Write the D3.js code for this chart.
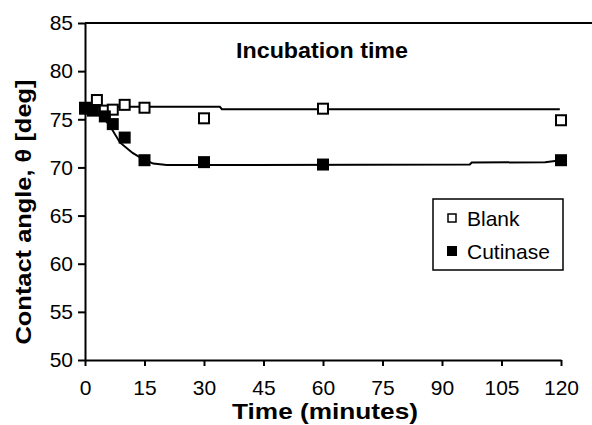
<!DOCTYPE html>
<html>
<head>
<meta charset="utf-8">
<script src="https://cdn.jsdelivr.net/npm/d3@7"></script>
<style>
  body { margin: 0; background: #fff; }
  text { font-family: "Liberation Sans", Arial, sans-serif; fill: #000; }
</style>
</head>
<body>
<script>
// measured points
var blankTime  = [0, 3, 5, 7, 10, 15, 30, 60, 120];
var blankAngle = [76.2, 77.0, 75.9, 76.0, 76.5, 76.2, 75.1, 76.1, 74.9];
var cutTime    = [0, 2, 5, 7, 10, 15, 30, 60, 120];
var cutAngle   = [76.1, 75.9, 75.3, 74.5, 73.1, 70.75, 70.55, 70.3, 70.75];

// trend lines as drawn in the figure
var blankFitTime  = [0, 34, 34.5, 119.7];
var blankFitAngle = [76.3, 76.3, 76.05, 76.05];
var cutFitTime  = [0, 2, 4, 6, 8.8, 12, 14.7, 17.2, 20.6, 97, 97.5, 116, 120];
var cutFitAngle = [76.2, 75.9, 75.3, 74.5, 72.6, 71.5, 70.85, 70.4, 70.25, 70.3, 70.5, 70.55, 70.75];

var xTicks = [0, 15, 30, 45, 60, 75, 90, 105, 120];
var yTicks = [50, 55, 60, 65, 70, 75, 80, 85];
var seriesNames = ["Blank", "Cutinase"];

var W = 592, H = 425;
var x = d3.scaleLinear().domain([0, 120]).range([85, 561]);
var y = d3.scaleLinear().domain([50, 85]).range([360, 23]);

var svg = d3.select("body").append("svg")
    .attr("width", W).attr("height", H);

function pairs(t, v) { return t.map(function(d, i) { return [d, v[i]]; }); }

// top frame line
svg.append("line")
    .attr("x1", x(0)).attr("x2", W)
    .attr("y1", y(85)).attr("y2", y(85))
    .attr("stroke", "#000").attr("stroke-width", 2);

// axes
var yAxis = svg.append("g").attr("transform", "translate(" + x(0) + ",0)")
    .call(d3.axisLeft(y).tickValues(yTicks).tickSize(7).tickPadding(5).tickSizeOuter(0));
var xAxis = svg.append("g").attr("transform", "translate(0," + y(50) + ")")
    .call(d3.axisBottom(x).tickValues(xTicks).tickSize(6).tickPadding(14).tickSizeOuter(0));

[xAxis, yAxis].forEach(function(a) {
  a.select(".domain").attr("stroke", "#000").attr("stroke-width", 2);
  a.selectAll(".tick line").attr("stroke", "#000").attr("stroke-width", 2);
  a.selectAll(".tick text").style("font-size", "21px")
    .style("font-family", "'Liberation Sans', Arial, sans-serif").attr("fill", "#000");
});
xAxis.selectAll(".tick text").attr("dy", "0.71em");

// trend lines
var line = d3.line().x(function(d) { return x(d[0]); }).y(function(d) { return y(d[1]); });
svg.append("path").datum(pairs(blankFitTime, blankFitAngle))
    .attr("d", line).attr("fill", "none").attr("stroke", "#000").attr("stroke-width", 2);
svg.append("path").datum(pairs(cutFitTime, cutFitAngle))
    .attr("d", line).attr("fill", "none").attr("stroke", "#000").attr("stroke-width", 2);

// markers
var s = 10;
svg.selectAll(".blank").data(pairs(blankTime, blankAngle)).enter().append("rect")
    .attr("x", function(d) { return x(d[0]) - s / 2; })
    .attr("y", function(d) { return y(d[1]) - s / 2; })
    .attr("width", s).attr("height", s)
    .attr("fill", "#fff").attr("stroke", "#000").attr("stroke-width", 2);
svg.selectAll(".cut").data(pairs(cutTime, cutAngle)).enter().append("rect")
    .attr("x", function(d) { return x(d[0]) - (s + 2) / 2; })
    .attr("y", function(d) { return y(d[1]) - (s + 2) / 2; })
    .attr("width", s + 2).attr("height", s + 2)
    .attr("fill", "#000");

// titles
svg.append("text").attr("x", 322).attr("y", 58)
    .attr("text-anchor", "middle").style("font-size", "22px").style("font-weight", "bold")
    .attr("textLength", 172).attr("lengthAdjust", "spacingAndGlyphs")
    .text("Incubation time");

svg.append("text").attr("x", 325).attr("y", 419)
    .attr("text-anchor", "middle").style("font-size", "22px").style("font-weight", "bold")
    .attr("textLength", 186).attr("lengthAdjust", "spacingAndGlyphs")
    .text("Time (minutes)");

svg.append("text")
    .attr("transform", "translate(31,212) rotate(-90)")
    .attr("text-anchor", "middle").style("font-size", "22px").style("font-weight", "bold")
    .attr("textLength", 265).attr("lengthAdjust", "spacingAndGlyphs")
    .text("Contact angle, θ [deg]");

// legend
var lg = svg.append("g");
lg.append("rect").attr("x", 433).attr("y", 199).attr("width", 130).attr("height", 71)
    .attr("fill", "#fff").attr("stroke", "#000").attr("stroke-width", 1.5);
seriesNames.forEach(function(name, i) {
  var cy = 218 + i * 33;
  if (i === 0) {
    lg.append("rect").attr("x", 448).attr("y", cy - 4).attr("width", 8).attr("height", 8)
      .attr("fill", "#fff").attr("stroke", "#000").attr("stroke-width", 1.5);
  } else {
    lg.append("rect").attr("x", 447).attr("y", cy - 5).attr("width", 10).attr("height", 10)
      .attr("fill", "#000");
  }
  lg.append("text").attr("x", 467).attr("y", cy + 8).style("font-size", "21px").text(name);
});
</script>
</body>
</html>
